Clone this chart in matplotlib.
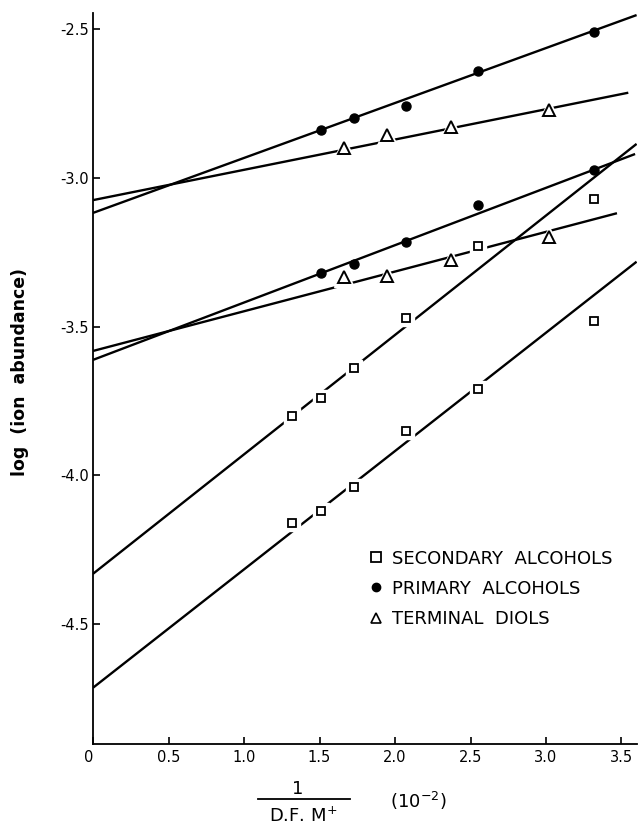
import matplotlib
matplotlib.use('Agg')
import matplotlib.pyplot as plt
from matplotlib.lines import Line2D

# 1 / D.F. M+  (10^-2)
x_alc = [1.32, 1.51, 1.73, 2.07, 2.55, 3.32]
x_diol = [1.66, 1.95, 2.37, 3.02]

# log (ion abundance)
sec_upper = [-3.80, -3.74, -3.64, -3.47, -3.23, -3.07]
sec_lower = [-4.16, -4.12, -4.04, -3.85, -3.71, -3.48]
prim_upper = [-2.84, -2.80, -2.76, -2.64, -2.51]
prim_lower = [-3.32, -3.29, -3.215, -3.09, -2.975]
diol_upper = [-2.90, -2.857, -2.83, -2.772]
diol_lower = [-3.335, -3.33, -3.276, -3.20]

# fitted lines: (x at start, x at end), (y at start, y at end)
fit_sec_upper = ([0, 3.6], [-4.331, -2.886])
fit_sec_lower = ([0, 3.6], [-4.714, -3.282])
fit_prim_upper = ([0, 3.6], [-3.118, -2.453])
fit_prim_lower = ([0, 3.59], [-3.612, -2.92])
fit_diol_upper = ([0, 3.545], [-3.075, -2.714])
fit_diol_lower = ([0, 3.47], [-3.582, -3.119])

xticks = [0, 0.5, 1.0, 1.5, 2.0, 2.5, 3.0, 3.5]
xtick_labels = ['0', '0.5', '1.0', '1.5', '2.0', '2.5', '3.0', '3.5']
yticks = [-4.5, -4.0, -3.5, -3.0, -2.5]
ytick_labels = ['-4.5', '-4.0', '-3.5', '-3.0', '-2.5']

plt.rcParams['font.family'] = ['DejaVu Sans']

fig = plt.figure(figsize=(6.38, 8.27), dpi=100)
ax = fig.add_axes([0.1458, 0.1004, 0.852, 0.8839])

lw = 1.7
for fx, fy in [fit_sec_upper, fit_sec_lower, fit_prim_upper,
               fit_prim_lower, fit_diol_upper, fit_diol_lower]:
    ax.plot(fx, fy, color='black', lw=lw, zorder=2, solid_capstyle='butt')

# white halos so the lines break around the open markers
for xs, ys, m, s in [(x_alc, sec_upper, 's', 12), (x_alc, sec_lower, 's', 12),
                     (x_diol, diol_upper, '^', 15), (x_diol, diol_lower, '^', 15)]:
    ax.plot(xs, ys, ls='none', marker=m, ms=s, mfc='white', mec='white', zorder=3)

ax.plot(x_alc, sec_upper, ls='none', marker='s', ms=5.5, mfc='white', mec='black', mew=1.3, zorder=4)
ax.plot(x_alc, sec_lower, ls='none', marker='s', ms=5.5, mfc='white', mec='black', mew=1.3, zorder=4)
ax.plot(x_alc[1:], prim_upper, ls='none', marker='o', ms=6.5, color='black', zorder=4)
ax.plot(x_alc[1:], prim_lower, ls='none', marker='o', ms=6.5, color='black', zorder=4)
ax.plot(x_diol, diol_upper, ls='none', marker='^', ms=8, mfc='white', mec='black', mew=1.4, zorder=4)
ax.plot(x_diol, diol_lower, ls='none', marker='^', ms=8, mfc='white', mec='black', mew=1.4, zorder=4)

ax.set_xlim(0, 3.6)
ax.set_ylim(-4.903, -2.446)
ax.spines['top'].set_visible(False)
ax.spines['right'].set_visible(False)
ax.spines['left'].set_linewidth(1.3)
ax.spines['bottom'].set_linewidth(1.3)

ax.set_xticks(xticks)
ax.set_xticklabels(xtick_labels)
ax.set_yticks(yticks)
ax.set_yticklabels(ytick_labels)
ax.tick_params(direction='in', length=5, width=1.2, labelsize=10.5, pad=4)
ax.tick_params(axis='y', pad=3)
ax.get_xticklabels()[0].set_horizontalalignment('right')

# legend
handles = [
    Line2D([], [], ls='none', marker='s', ms=6.5, mfc='white', mec='black', mew=1.3),
    Line2D([], [], ls='none', marker='o', ms=6, color='black'),
    Line2D([], [], ls='none', marker='^', ms=6.5, mfc='white', mec='black', mew=1.2),
]
labels = ['SECONDARY  ALCOHOLS', 'PRIMARY  ALCOHOLS', 'TERMINAL  DIOLS']
ax.legend(handles, labels, loc='upper left', bbox_to_anchor=(0.51, 0.266),
          frameon=False, fontsize=13, handlelength=0.6, handletextpad=0.6,
          labelspacing=0.68, borderpad=0, borderaxespad=0)

# axis labels
fig.text(20 / 638, 1 - 372 / 827, 'log  (ion  abundance)', rotation=90,
         ha='center', va='center', fontsize=12.5, fontweight='bold')
fig.text(298 / 638, 1 - 789 / 827, '1', ha='center', va='center', fontsize=13)
fig.add_artist(Line2D([258 / 638, 350 / 638], [1 - 799 / 827, 1 - 799 / 827],
                      color='black', lw=1.3))
fig.text(303 / 638, 1 - 816 / 827, 'D.F. M$^{+}$', ha='center', va='center', fontsize=13)
fig.text(418 / 638, 1 - 801 / 827, '(10$^{-2}$)', ha='center', va='center', fontsize=13)

fig.savefig('out.png', dpi=100)
